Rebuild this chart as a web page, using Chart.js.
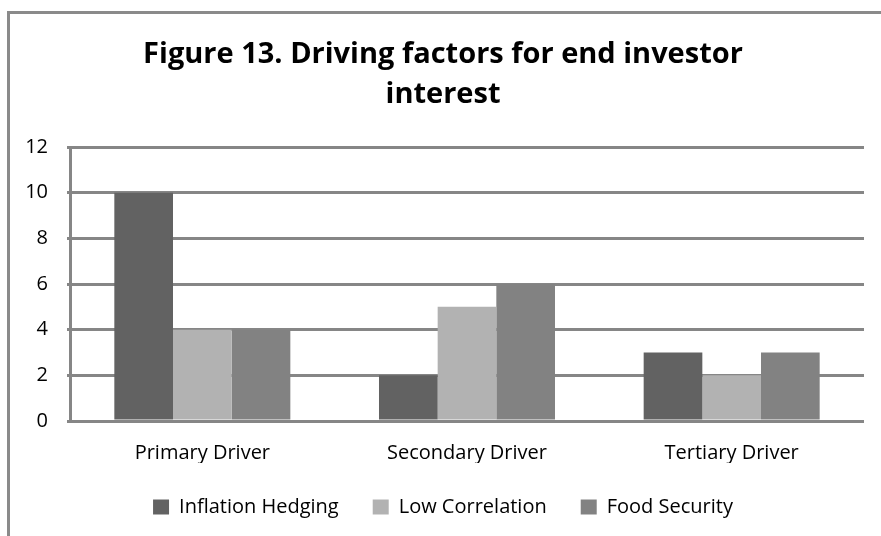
<!DOCTYPE html>
<html>
<head>
<meta charset="utf-8">
<script src="https://cdn.jsdelivr.net/npm/chart.js@4.4.1/dist/chart.umd.min.js"></script>
<style>
  body { margin: 0; background: #fff; }
  #wrap { width: 881px; height: 536px; }
</style>
</head>
<body>
<div id="wrap"><canvas id="myChart" width="881" height="536"></canvas></div>
<script>
var categorias = ["Primary Driver", "Secondary Driver", "Tertiary Driver"];
var inflation = [10, 2, 3];
var lowCorrelation = [4, 5, 2];
var foodSecurity = [4, 6, 3];
var yTicks = [0, 2, 4, 6, 8, 10, 12];

var fonte = "'Open Sans', sans-serif";
var cinza = '#868686';

// moldura (so em cima e a esquerda, como no original)
const moldura = {
	id: 'moldura',
	beforeDraw(chart) {
		var ctx = chart.ctx;
		ctx.save();
		ctx.fillStyle = '#fff';
		ctx.fillRect(0, 0, chart.width, chart.height);
		ctx.strokeStyle = '#8a8a8a';
		ctx.lineWidth = 3;
		ctx.beginPath();
		ctx.moveTo(881, 12.5);
		ctx.lineTo(8.5, 12.5);
		ctx.lineTo(8.5, 536);
		ctx.stroke();
		ctx.restore();
	}
};

var ctx = document.getElementById('myChart').getContext('2d');
var chart = new Chart(ctx, {
	type: 'bar',
	data: {
		labels: categorias,
		datasets: [{
			label: "Inflation Hedging",
			backgroundColor: '#626262',
			data: inflation
		}, {
			label: "Low Correlation",
			backgroundColor: '#b2b2b2',
			data: lowCorrelation
		}, {
			label: "Food Security",
			backgroundColor: '#828282',
			data: foodSecurity
		}]
	},
	options: {
		responsive: false,
		animation: false,
		layout: { padding: { top: 0, left: 22, right: 17, bottom: 9 } },
		datasets: { bar: { barPercentage: 1, categoryPercentage: 0.665 } },
		plugins: {
			title: {
				display: true,
				text: ["Figure 13. Driving factors for end investor", "interest"],
				color: '#000',
				font: { family: fonte, size: 29, weight: 'bold', lineHeight: 1.38 },
				padding: { top: 35, bottom: 32 }
			},
			legend: {
				position: 'bottom',
				labels: {
					color: '#000',
					font: { family: fonte, size: 20 },
					boxWidth: 16,
					boxHeight: 15,
					padding: 34
				}
			},
			tooltip: { enabled: false }
		},
		scales: {
			x: {
				grid: { display: false },
				border: { display: false },
				ticks: { color: '#000', font: { family: fonte, size: 20 }, padding: 12 },
				afterFit: function (s) { s.height = 42; }
			},
			y: {
				min: 0,
				max: 12,
				afterBuildTicks: function (s) { s.ticks = yTicks.map(function (v) { return { value: v }; }); },
				grid: { color: cinza, lineWidth: 3, tickLength: 3 },
				border: { display: true, color: cinza, width: 3 },
				ticks: { color: '#000', font: { family: fonte, size: 20 }, padding: 19 },
				afterFit: function (s) { s.width = 48; }
			}
		}
	},
	plugins: [moldura]
});
</script>
</body>
</html>
